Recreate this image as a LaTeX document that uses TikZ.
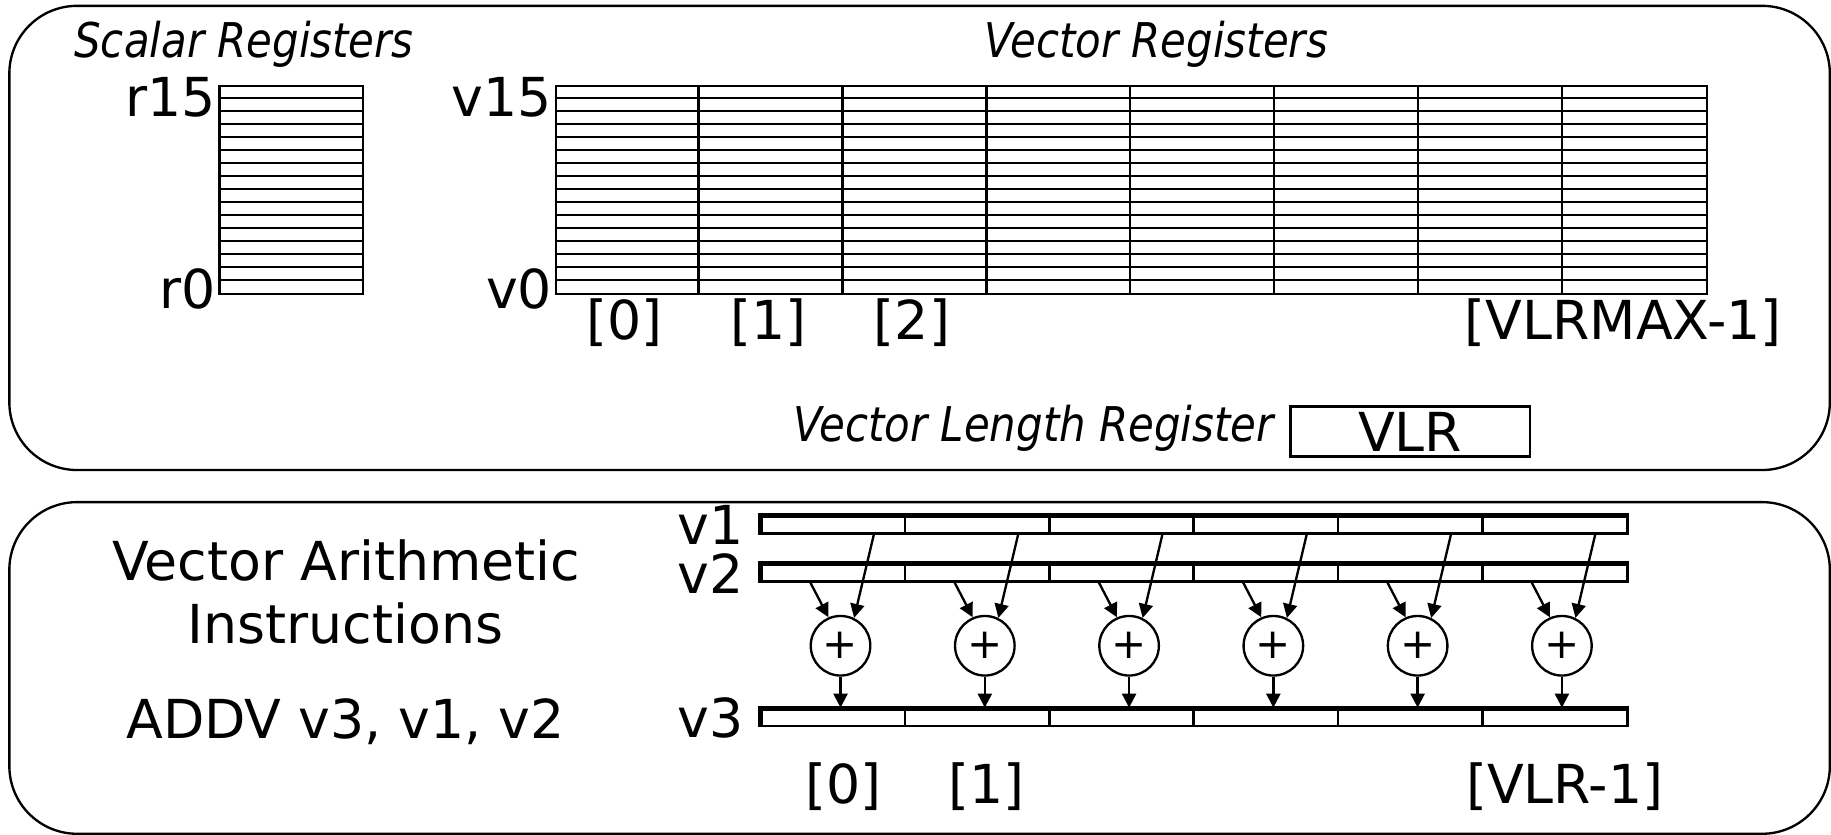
\documentclass[tikz,border=0pt]{standalone}
\usepackage{fontspec}
\setmainfont{DejaVu Sans}
\newfontfamily\itf{DejaVu Sans}[FakeStretch=0.875]
\usetikzlibrary{arrows.meta}
\begin{document}
\begin{tikzpicture}[x=1pt,y=-1pt,line join=miter,
  panel/.style={draw,line width=2pt,rounded corners=58pt},
  regbox/.style={draw,line width=1.9pt,inner sep=0pt,anchor=north west},
  gridline/.style={line width=1.9pt},
  lbl/.style={inner sep=0pt,font=\fontsize{46}{50}\selectfont},
  ttl/.style={inner sep=0pt,font=\itf\itshape\fontsize{41}{46}\selectfont},
  barbox/.style={draw,line width=2.3pt,inner sep=0pt,minimum width=741.3pt,minimum height=14pt,anchor=west},
  thickedge/.style={line width=4pt},
  adder/.style={draw,circle,line width=2pt,minimum size=51pt,inner sep=0pt,font=\fontsize{36}{40}\selectfont},
  arr/.style={line width=2pt,-{Triangle[length=12pt,width=12pt]}}
]
\useasboundingbox (0,0) rectangle (1568,715);
% panels
\draw[panel] (8,5) rectangle (1567,402.5);
\draw[panel] (8,430) rectangle (1567,714);

% titles
\node[ttl,anchor=base] (tscal) at (209,49.5) {Scalar Registers};
\node[ttl,anchor=base] (tvec) at (990,49.5) {Vector Registers};

% scalar registers
\node[regbox,minimum width=123pt,minimum height=178pt] (sreg) at (187,73) {};
\foreach \k in {1,...,15}{
  \draw[gridline] (187,{73+11.125*\k}) -- (310,{73+11.125*\k});
}
\node[lbl,anchor=base east] (r15) at (185,100) {r15};
\node[lbl,anchor=base east] (r0) at (185,264) {r0};

% vector registers
\node[regbox,minimum width=986pt,minimum height=178pt] (vreg) at (475,73) {};
\foreach \k in {1,...,15}{
  \draw[gridline] (475,{73+11.125*\k}) -- (1461,{73+11.125*\k});
}
\foreach \k in {1,...,7}{
  \draw[gridline] ({475+123.25*\k},73) -- ({475+123.25*\k},251);
}
\node[lbl,anchor=base east] (v15) at (473,100) {v15};
\node[lbl,anchor=base east] (v0) at (473,264) {v0};
\node[lbl,anchor=base] (i0) at (535,291) {[0]};
\node[lbl,anchor=base] (i1) at (658,291) {[1]};
\node[lbl,anchor=base] (i2) at (781,291) {[2]};
\node[lbl,anchor=base] (imax) at (1390,291) {[VLRMAX-1]};

% vector length register
\node[ttl,anchor=base east] (tvlr) at (1091,378) {Vector Length Register};
\node[lbl,draw,line width=2pt,minimum width=205pt,minimum height=43pt] (vlr) at (1207.5,369.5) {VLR};

% bottom panel text
\node[lbl,anchor=base] (va) at (296.5,497) {Vector Arithmetic};
\node[lbl,anchor=base] (vi) at (296,551) {Instructions};
\node[lbl,anchor=base] (addv) at (296,632) {ADDV v3, v1, v2};

% vector bars
\foreach \n/\y in {v1/449.7,v2/490.8,v3/614.8}{
  \node[barbox] (\n bar) at (651.5,\y) {};
  \draw[thickedge] (\n bar.south west) -- (\n bar.north west) -- (\n bar.north east);
  \foreach \k in {1,...,5}{
    \draw[line width=2.3pt] ([xshift={123.55*\k}]\n bar.north west) -- ([xshift={123.55*\k}]\n bar.south west);
  }
  \node[lbl,anchor=east] (\n lab) at (637,\y) {\n};
}

% adders and arrows
\foreach \i in {0,...,5}{
  \pgfmathsetmacro{\cx}{719.8+123.55*\i}
  \node[adder] (c\i) at (\cx,553) {+};
  \coordinate (a\i) at ({\cx-26.3},498);
  \coordinate (b\i) at ({\cx+28.7},457);
  \coordinate (d\i) at (\cx,606);
  \draw[arr] (a\i) -- (c\i.113);
  \draw[arr] (b\i) -- (c\i.64);
  \draw[arr] (c\i) -- (d\i);
}

% element labels
\node[lbl,anchor=base] (j0) at (722,688) {[0]};
\node[lbl,anchor=base] (j1) at (845,688) {[1]};
\node[lbl,anchor=base] (jl) at (1340,688) {[VLR-1]};
\end{tikzpicture}
\end{document}
